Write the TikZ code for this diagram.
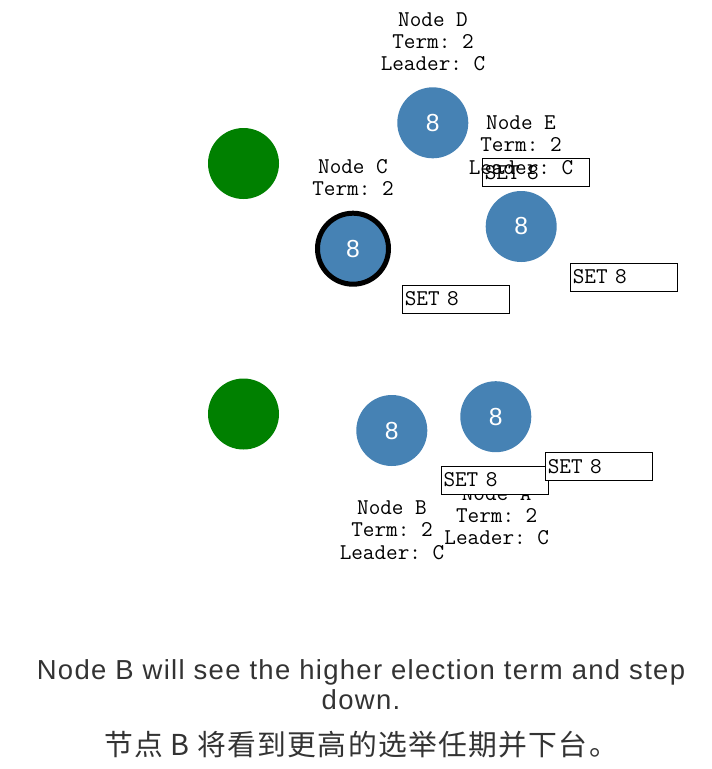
\documentclass[tikz,border=0pt]{standalone}
\usepackage{fontspec}
\setmainfont{Liberation Sans}
\newfontfamily\monof{Latin Modern Mono}
\newfontfamily\capf[LetterSpace=4.8]{Liberation Sans}
\newfontfamily\cjkf[LetterSpace=4.6]{Noto Sans CJK SC}
\definecolor{steel}{HTML}{4682B4}
\definecolor{grn}{HTML}{008000}
\definecolor{capc}{HTML}{333333}
\tikzset{
  peer/.style={circle, fill=steel, minimum size=53.25pt, inner sep=0pt, text=white,
    font=\fontsize{18.5}{18.5}\selectfont},
  leaderpeer/.style={peer, draw=black, line width=3.75pt},
  ghost/.style={circle, fill=grn, minimum size=53.25pt, inner sep=0pt},
  info/.style={font=\monof\fontsize{16.9}{16.7}\selectfont\frenchspacing, align=center, anchor=base, inner sep=0pt},
  msg/.style={draw=black, line width=0.75pt, fill=white, anchor=north west,
    text width=77.25pt, align=left, inner xsep=1.5pt, inner ysep=0pt,
    minimum height=21pt, font=\monof\fontsize{16.9}{16.7}\selectfont\frenchspacing},
  caption/.style={anchor=base, inner sep=0pt, text=capc}
}
\begin{document}
\begin{tikzpicture}[x=0.75pt,y=-0.75pt]
\useasboundingbox (0,0) rectangle (712,769);
% ghost nodes
\node[ghost] (g1) at (243.5,163.5) {};
\node[ghost] (g2) at (243.5,414) {};
% peers
\node[peer] (nd) at (432.8,122.8) {8};
\node[peer] (ne) at (521.2,226.5) {8};
\node[leaderpeer] (nc) at (353,248.7) {8};
\node[peer] (nb) at (391.8,430.5) {8};
\node[peer] (na) at (495.8,416.7) {8};
% message box under E label
\node[msg] (m1) at (482.3,158.3) {SET 8};
% labels (anchor = baseline of last line)
\node[info] (ld) at (433,70.6) {Node D\\Term: 2\\Leader: C};
\node[info] (le) at (521,174.1) {Node E\\Term: 2\\Leader: C};
\node[info] (lc) at (353,195.6) {Node C\\Term: 2};
\node[info] (lb) at (392,559) {Node B\\Term: 2\\Leader: C};
\node[info] (la) at (496.7,544.6) {Node A\\Term: 2\\Leader: C};
% other message boxes
\node[msg] (m2) at (402.3,284.5) {SET 8};
\node[msg] (m3) at (570.3,262.5) {SET 8};
\node[msg] (m4) at (441,465.5) {SET 8};
\node[msg] (m5) at (545.3,452.3) {SET 8};
% caption
\node[caption, font=\capf\fontsize{20.6}{20.6}\selectfont] (c1) at (361,679) {Node B will see the higher election term and step};
\node[caption, font=\capf\fontsize{20.6}{20.6}\selectfont] (c2) at (361,709) {down.};
\node[caption, font=\cjkf\fontsize{21.6}{21.6}\selectfont] (c3) at (361,755) {节点 B 将看到更高的选举任期并下台。};
\end{tikzpicture}
\end{document}
